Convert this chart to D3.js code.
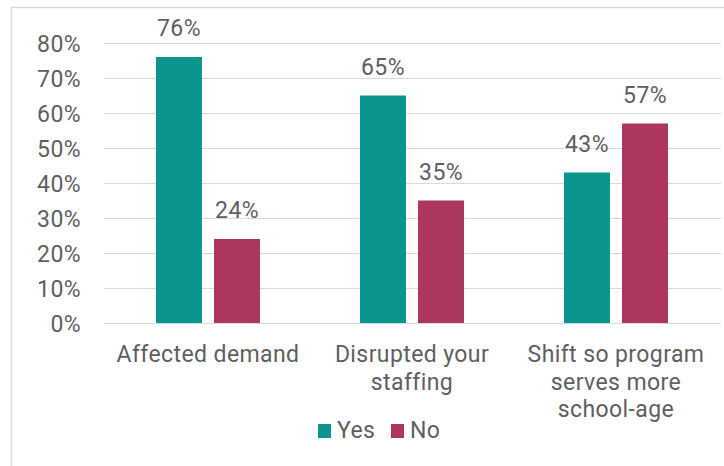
<!DOCTYPE html>
<html>
<head>
<meta charset="utf-8">
<script src="https://cdn.jsdelivr.net/npm/d3@7"></script>
<style>
  html, body { margin: 0; padding: 0; background: #fff; }
  svg { display: block; }
  text { font-family: Roboto, "Noto Sans", sans-serif; fill: #5f5f5f; letter-spacing: 0.4px; }
</style>
</head>
<body>
<svg id="chart" width="724" height="466"></svg>
<script>
// Survey responses, percent of respondents
const categories = [
  ["Affected demand"],
  ["Disrupted your", "staffing"],
  ["Shift so program", "serves more", "school-age"]
];
const seriesNames = ["Yes", "No"];
const yesValues = [76, 65, 43];
const noValues = [24, 35, 57];
const yTicks = [0, 10, 20, 30, 40, 50, 60, 70, 80];
const colors = { Yes: "#0a968f", No: "#ad3660" };

const svg = d3.select("#chart");
const W = 724, H = 466;
const FS = 23;

// outer frame
svg.append("rect")
  .attr("x", 11.5).attr("y", 7.5)
  .attr("width", W + 10).attr("height", H + 10)
  .attr("fill", "none").attr("stroke", "#d9d9d9").attr("stroke-width", 1.5);

const plot = { left: 106, right: 718, top: 43, bottom: 323 };

const x0 = d3.scaleBand()
  .domain(categories.map((c, i) => i))
  .range([plot.left, plot.right])
  .paddingInner(0.49)
  .paddingOuter(0.245);

const x1 = d3.scaleBand()
  .domain(seriesNames)
  .range([0, x0.bandwidth()])
  .paddingInner(0.207)
  .paddingOuter(0);

const y = d3.scaleLinear().domain([0, 80]).range([plot.bottom, plot.top]);

// gridlines
svg.append("g")
  .selectAll("line")
  .data(yTicks)
  .join("line")
  .attr("x1", 104).attr("x2", 721)
  .attr("y1", d => Math.round(y(d)) + 0.5)
  .attr("y2", d => Math.round(y(d)) + 0.5)
  .attr("stroke", "#d9d9d9").attr("stroke-width", 1.2);

// y axis labels
const yAxis = d3.axisLeft(y).tickValues(yTicks).tickFormat(d => d + "%").tickSize(0).tickPadding(0);
const yg = svg.append("g").attr("transform", "translate(81,0)").call(yAxis);
yg.select(".domain").remove();
yg.selectAll("text")
  .attr("font-size", FS)
  .attr("font-family", "Roboto, sans-serif")
  .attr("fill", "#5f5f5f")
  .attr("dy", "0.36em");

// bars
const rows = categories.map((c, i) => ({
  i,
  values: [
    { key: "Yes", v: yesValues[i] },
    { key: "No", v: noValues[i] }
  ]
}));

const groups = svg.append("g")
  .selectAll("g")
  .data(rows)
  .join("g")
  .attr("transform", d => `translate(${x0(d.i)},0)`);

groups.selectAll("rect")
  .data(d => d.values)
  .join("rect")
  .attr("x", d => x1(d.key))
  .attr("width", x1.bandwidth())
  .attr("y", d => y(d.v))
  .attr("height", d => y(0) - y(d.v))
  .attr("fill", d => colors[d.key]);

groups.selectAll("text.val")
  .data(d => d.values)
  .join("text")
  .attr("class", "val")
  .attr("x", d => x1(d.key) + x1.bandwidth() / 2)
  .attr("y", d => y(d.v) - 21)
  .attr("text-anchor", "middle")
  .attr("font-size", FS)
  .text(d => d.v + "%");

// category labels
const xg = svg.append("g");
categories.forEach((lines, i) => {
  const t = xg.append("text")
    .attr("x", x0(i) + x0.bandwidth() / 2)
    .attr("y", 362)
    .attr("text-anchor", "middle")
    .attr("font-size", FS);
  lines.forEach((ln, j) => {
    t.append("tspan")
      .attr("x", x0(i) + x0.bandwidth() / 2)
      .attr("dy", j === 0 ? 0 : 27.5)
      .text(ln);
  });
});

// legend
const legend = svg.append("g").attr("transform", "translate(318,438)");
const legendX = [0, 73];
seriesNames.forEach((s, i) => {
  const g = legend.append("g").attr("transform", `translate(${legendX[i]},0)`);
  g.append("rect").attr("x", 0).attr("y", -14).attr("width", 13).attr("height", 14).attr("fill", colors[s]);
  g.append("text").attr("x", 19).attr("y", 0).attr("font-size", FS).text(s);
});
</script>
</body>
</html>
